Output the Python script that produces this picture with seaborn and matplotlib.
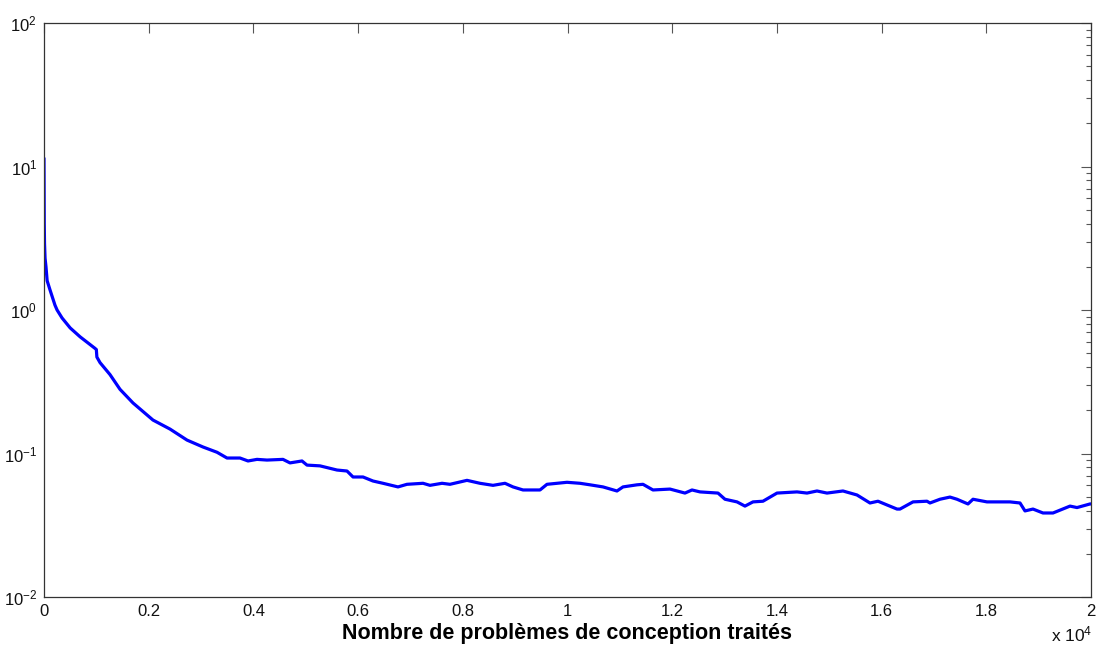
import matplotlib
matplotlib.use("Agg")
import matplotlib.pyplot as plt
import matplotlib.ticker as mticker
import numpy as np
import pandas as pd
import seaborn as sns

# Number of processed design problems
problems = [0, 5, 10, 20, 38, 60, 115, 210, 250, 345, 500, 690, 975, 1000,
            1010, 1070, 1260, 1452, 1700, 2082, 2407, 2732, 3037, 3305, 3496,
            3744, 3897, 4069, 4260, 4565, 4699, 4928, 5024, 5272, 5597, 5788,
            5903, 6094, 6285, 6476, 6762, 6934, 7240, 7373, 7603, 7755, 8080,
            8328, 8577, 8806, 8959, 9150, 9475, 9608, 9990, 10239, 10430,
            10678, 10945, 11060, 11328, 11442, 11633, 11958, 12244, 12378,
            12531, 12875, 13008, 13238, 13390, 13543, 13734, 14002, 14384,
            14575, 14766, 14957, 15262, 15530, 15778, 15931, 16103, 16294,
            16351, 16600, 16867, 16924, 17115, 17306, 17440, 17650, 17746,
            18013, 18453, 18644, 18739, 18892, 19083, 19274, 19599, 19733,
            19981, 20000]
# Error value after each step
error = [11.4, 4.0, 2.9, 2.3, 2.0, 1.6, 1.38, 1.08, 1.0, 0.88, 0.75, 0.65,
         0.54, 0.53, 0.47, 0.43, 0.355, 0.28, 0.225, 0.171, 0.148, 0.124,
         0.111, 0.102, 0.093, 0.093, 0.0887, 0.091, 0.090, 0.091, 0.086,
         0.0887, 0.083, 0.082, 0.0767, 0.0755, 0.0686, 0.0686, 0.0643, 0.062,
         0.0585, 0.061, 0.062, 0.060, 0.062, 0.061, 0.065, 0.062, 0.060,
         0.062, 0.0585, 0.0557, 0.0557, 0.061, 0.063, 0.062, 0.0605, 0.0585,
         0.0548, 0.0585, 0.0605, 0.061, 0.0557, 0.0565, 0.053, 0.0557, 0.054,
         0.053, 0.048, 0.046, 0.043, 0.046, 0.0465, 0.053, 0.054, 0.053,
         0.0548, 0.053, 0.0548, 0.0514, 0.0452, 0.0465, 0.0438, 0.041, 0.041,
         0.046, 0.0465, 0.0452, 0.048, 0.0497, 0.048, 0.0445, 0.048, 0.046,
         0.046, 0.0452, 0.0398, 0.041, 0.0385, 0.0385, 0.043, 0.042, 0.0445,
         0.0445]

x_ticks = [0, 2000, 4000, 6000, 8000, 10000, 12000, 14000, 16000, 18000, 20000]
x_tick_labels = ["0", "0.2", "0.4", "0.6", "0.8", "1", "1.2", "1.4", "1.6", "1.8", "2"]
x_label = "Nombre de problèmes de conception traités"
x_multiplier = r"x 10$^{4}$"

sns.set_style("white")
plt.rcParams["font.family"] = ["Liberation Sans", "DejaVu Sans"]
plt.rcParams["mathtext.fontset"] = "custom"
plt.rcParams["mathtext.rm"] = "Liberation Sans"
plt.rcParams["mathtext.it"] = "Liberation Sans"

df = pd.DataFrame({"n": problems, "err": error})

fig = plt.figure(figsize=(10.97, 6.48), dpi=100)
ax = fig.add_axes([44 / 1097, 51 / 648, 1047 / 1097, 574 / 648])

sns.lineplot(data=df, x="n", y="err", ax=ax, color="#0000ff", linewidth=2.3,
             estimator=None)

ax.set_yscale("log")
ax.set_ylim(1e-2, 1e2)
ax.set_xlim(0, 20000)
ax.set_xticks(x_ticks)
ax.set_xticklabels(x_tick_labels)
ax.yaxis.set_major_locator(mticker.LogLocator(base=10, numticks=10))
ax.yaxis.set_minor_locator(mticker.LogLocator(base=10, subs=np.arange(2, 10), numticks=20))
ax.yaxis.set_minor_formatter(mticker.NullFormatter())

ax.tick_params(which="both", direction="in", top=True, right=True,
               labelsize=12, labelcolor="#111111", pad=5)
ax.tick_params(which="major", length=7, width=0.8, color="#555555")
ax.tick_params(which="minor", length=3.6, width=0.8, color="#555555")
for s in ax.spines.values():
    s.set_color("#333333")
    s.set_linewidth(0.9)

ax.set_xlabel(x_label, fontsize=15.5, fontweight="bold", labelpad=3, color="black")
ax.set_ylabel("")
fig.text(1092 / 1097, 1 - 634 / 648, x_multiplier, ha="right", va="center",
         fontsize=12.5, color="#111111")

fig.savefig("out.png", dpi=100)
